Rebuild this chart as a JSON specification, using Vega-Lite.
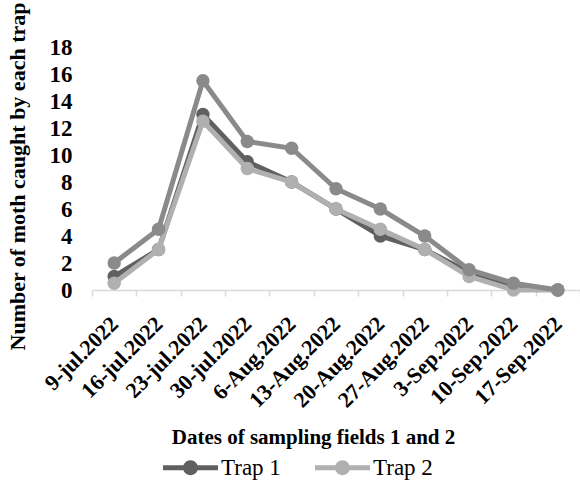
{
  "$schema": "https://vega.github.io/schema/vega-lite/v6.json",
  "autosize": {"type": "none"},
  "padding": {"left": 92, "top": 47, "right": 0, "bottom": 193},
  "width": 488,
  "height": 243,
  "background": "white",
  "config": {
    "view": {"stroke": null},
    "font": "Liberation Serif",
    "text": {"font": "Liberation Serif"}
  },
  "data": {
    "values": [
      {"date": "9-jul.2022", "series": "Trap 1", "moths": 1},
      {"date": "16-jul.2022", "series": "Trap 1", "moths": 3},
      {"date": "23-jul.2022", "series": "Trap 1", "moths": 13},
      {"date": "30-jul.2022", "series": "Trap 1", "moths": 9.5},
      {"date": "6-Aug.2022", "series": "Trap 1", "moths": 8},
      {"date": "13-Aug.2022", "series": "Trap 1", "moths": 6},
      {"date": "20-Aug.2022", "series": "Trap 1", "moths": 4},
      {"date": "27-Aug.2022", "series": "Trap 1", "moths": 3},
      {"date": "3-Sep.2022", "series": "Trap 1", "moths": 1.3},
      {"date": "10-Sep.2022", "series": "Trap 1", "moths": 0.3},
      {"date": "17-Sep.2022", "series": "Trap 1", "moths": 0},
      {"date": "9-jul.2022", "series": "Trap 2", "moths": 0.5},
      {"date": "16-jul.2022", "series": "Trap 2", "moths": 3},
      {"date": "23-jul.2022", "series": "Trap 2", "moths": 12.5},
      {"date": "30-jul.2022", "series": "Trap 2", "moths": 9},
      {"date": "6-Aug.2022", "series": "Trap 2", "moths": 8},
      {"date": "13-Aug.2022", "series": "Trap 2", "moths": 6},
      {"date": "20-Aug.2022", "series": "Trap 2", "moths": 4.5},
      {"date": "27-Aug.2022", "series": "Trap 2", "moths": 3},
      {"date": "3-Sep.2022", "series": "Trap 2", "moths": 1},
      {"date": "10-Sep.2022", "series": "Trap 2", "moths": 0},
      {"date": "17-Sep.2022", "series": "Trap 2", "moths": 0},
      {"date": "9-jul.2022", "series": "Total", "moths": 2},
      {"date": "16-jul.2022", "series": "Total", "moths": 4.5},
      {"date": "23-jul.2022", "series": "Total", "moths": 15.5},
      {"date": "30-jul.2022", "series": "Total", "moths": 11},
      {"date": "6-Aug.2022", "series": "Total", "moths": 10.5},
      {"date": "13-Aug.2022", "series": "Total", "moths": 7.5},
      {"date": "20-Aug.2022", "series": "Total", "moths": 6},
      {"date": "27-Aug.2022", "series": "Total", "moths": 4},
      {"date": "3-Sep.2022", "series": "Total", "moths": 1.5},
      {"date": "10-Sep.2022", "series": "Total", "moths": 0.5},
      {"date": "17-Sep.2022", "series": "Total", "moths": 0}
    ]
  },
  "encoding": {
    "x": {
      "field": "date", "type": "nominal", "sort": null,
      "scale": {"type": "band", "paddingInner": 0, "paddingOuter": 0},
      "axis": {
        "title": "Dates of sampling fields 1 and 2",
        "titleFont": "Liberation Serif", "titleFontSize": 21, "titleFontWeight": "bold", "titleColor": "black",
        "titleX": 221, "titleY": 147, "titleBaseline": "middle", "titleAlign": "center",
        "labelFont": "Liberation Serif", "labelFontSize": 22, "labelFontWeight": "bold", "labelColor": "black",
        "labelAngle": -45, "labelAlign": "right", "labelBaseline": "middle", "labelPadding": 24, "labelOffset": 0,
        "domainColor": "#d9d9d9", "domainWidth": 1.5, "tickColor": "#d9d9d9", "tickWidth": 1.5, "tickSize": 6,
        "tickBand": "extent", "grid": false
      }
    },
    "y": {
      "field": "moths", "type": "quantitative",
      "scale": {"domain": [0, 18], "nice": false},
      "axis": {
        "title": "Number of moth caught by each trap",
        "titleFont": "Liberation Serif", "titleFontSize": 22, "titleFontWeight": "bold", "titleColor": "black",
        "titleX": -75, "titleY": 129, "titleAlign": "center", "titleBaseline": "middle",
        "values": [0, 2, 4, 6, 8, 10, 12, 14, 16, 18],
        "labelFont": "Liberation Serif", "labelFontSize": 23, "labelFontWeight": "bold", "labelColor": "black",
        "labelPadding": 20, "domain": false, "ticks": false, "grid": false
      }
    },
    "color": {
      "field": "series", "type": "nominal",
      "scale": {"domain": ["Trap 1", "Trap 2", "Total"], "range": ["#606060", "#b0b0b0", "#8a8a8a"]},
      "legend": {
        "values": ["Trap 1", "Trap 2"],
        "title": null, "orient": "none", "direction": "horizontal",
        "legendX": 71, "legendY": 393,
        "labelFont": "Liberation Serif", "labelFontSize": 23, "labelColor": "black",
        "symbolType": "M-1,-0.09L-0.25,-0.09L-0.25,0.09L-1,0.09Z M0.25,-0.09L1,-0.09L1,0.09L0.25,0.09Z M0.27,0A0.27,0.27 0 1,1 -0.27,0A0.27,0.27 0 1,1 0.27,0Z",
        "symbolSize": 3025, "symbolStrokeWidth": 0, "labelOffset": 3, "columnPadding": 34,
        "encode": {"symbols": {"update": {"fill": {"scale": "color", "field": "value"}, "stroke": {"value": "transparent"}, "strokeWidth": {"value": 0}}}}
      }
    }
  },
  "layer": [
    {"transform": [{"filter": "datum.series === 'Trap 1'"}], "mark": {"type": "line", "strokeWidth": 5, "point": {"filled": true, "size": 180, "opacity": 1}}},
    {"transform": [{"filter": "datum.series === 'Trap 2'"}], "mark": {"type": "line", "strokeWidth": 5, "point": {"filled": true, "size": 180, "opacity": 1}}},
    {"transform": [{"filter": "datum.series === 'Total'"}], "mark": {"type": "line", "strokeWidth": 5, "point": {"filled": true, "size": 180, "opacity": 1}}}
  ]
}
